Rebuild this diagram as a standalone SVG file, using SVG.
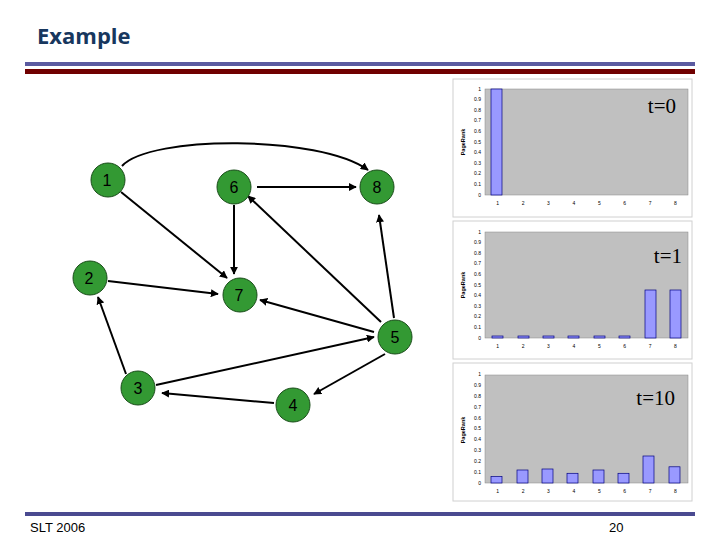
<svg xmlns="http://www.w3.org/2000/svg" width="720" height="540" viewBox="0 0 720 540">
<defs>
<marker id="ah" viewBox="0 0 10 10" refX="9" refY="5" markerWidth="4" markerHeight="4" orient="auto"><path d="M0,0 L10,5 L0,10 z" fill="#000"/></marker>
<g id="yax" font-family="Liberation Sans, Arial, sans-serif" font-size="5" text-anchor="end" fill="#000">
<text x="-4" y="1.5">0</text><text x="-4" y="-9.1">0.1</text><text x="-4" y="-19.7">0.2</text><text x="-4" y="-30.3">0.3</text><text x="-4" y="-40.9">0.4</text><text x="-4" y="-51.5">0.5</text><text x="-4" y="-62.1">0.6</text><text x="-4" y="-72.7">0.7</text><text x="-4" y="-83.3">0.8</text><text x="-4" y="-93.9">0.9</text><text x="-4" y="-104.5">1</text>
</g>
<g id="xax" font-family="Liberation Sans, Arial, sans-serif" font-size="5" text-anchor="middle" fill="#000">
<text x="12.7" y="10">1</text><text x="38.1" y="10">2</text><text x="63.5" y="10">3</text><text x="88.9" y="10">4</text><text x="114.3" y="10">5</text><text x="139.7" y="10">6</text><text x="165.1" y="10">7</text><text x="190.5" y="10">8</text>
</g>
</defs>
<style>
.node{fill:#339933;stroke:#1a4d1a;stroke-width:1}
.nl{font-family:"Liberation Sans",Arial,sans-serif;font-size:16px;text-anchor:middle;fill:#000}
.edge{stroke:#000;stroke-width:2;fill:none;marker-end:url(#ah)}
.box{fill:#fff;stroke:#d0d0d0;stroke-width:1}
.plot{fill:#c0c0c0;stroke:#888;stroke-width:0.5}
.bar{fill:#9999ff;stroke:#000080;stroke-width:0.7}
.pr{font-family:"Liberation Sans",Arial,sans-serif;font-size:5.5px;font-weight:bold;text-anchor:middle}
.t{font-family:"Liberation Serif","Times New Roman",serif;font-size:21px;text-anchor:end}
.foot{font-family:"Liberation Sans",Arial,sans-serif;font-size:13px;fill:#000}
</style>
<rect width="720" height="540" fill="#fff"/>
<text x="37" y="44" font-family="Open Sans,'Liberation Sans',sans-serif" font-size="22" font-weight="bold" fill="#17375e">Example</text>
<rect x="25" y="62" width="670" height="4" fill="#5a5aa0"/>
<rect x="25" y="69" width="670" height="5" fill="#700000"/>
<rect x="25" y="512" width="670" height="4" fill="#4a4a90"/>
<text class="foot" x="30" y="532">SLT 2006</text>
<text class="foot" x="609" y="532">20</text>

<g id="connectors">
<path class="edge" d="M122,166 C150,135 320,135 368,170"/>
<line class="edge" x1="121" y1="192" x2="227" y2="278"/>
<line class="edge" x1="257" y1="187" x2="356" y2="187"/>
<line class="edge" x1="234" y1="205" x2="234" y2="274"/>
<line class="edge" x1="108" y1="281" x2="218" y2="294"/>
<line class="edge" x1="126" y1="374" x2="98" y2="297"/>
<line class="edge" x1="156" y1="385" x2="374" y2="337"/>
<line class="edge" x1="274" y1="403" x2="162" y2="393"/>
<line class="edge" x1="385" y1="354" x2="314" y2="394"/>
<line class="edge" x1="374" y1="332" x2="260" y2="300"/>
<line class="edge" x1="381" y1="322" x2="248" y2="196"/>
<line class="edge" x1="394" y1="318" x2="379" y2="215"/>
</g>
<g id="n1"><circle class="node" cx="108" cy="180" r="17"/><text class="nl" x="107" y="186">1</text></g>
<g id="n6"><circle class="node" cx="234" cy="187" r="17"/><text class="nl" x="234" y="193">6</text></g>
<g id="n8"><circle class="node" cx="377" cy="187" r="17"/><text class="nl" x="377" y="193">8</text></g>
<g id="n2"><circle class="node" cx="90" cy="278" r="17"/><text class="nl" x="89" y="284">2</text></g>
<g id="n7"><circle class="node" cx="240" cy="295" r="17"/><text class="nl" x="239" y="301">7</text></g>
<g id="n5"><circle class="node" cx="395" cy="337" r="17"/><text class="nl" x="395" y="343">5</text></g>
<g id="n3"><circle class="node" cx="138" cy="388" r="17"/><text class="nl" x="138" y="394">3</text></g>
<g id="n4"><circle class="node" cx="293" cy="405" r="17"/><text class="nl" x="293" y="411">4</text></g>

<g id="chart0">
<rect class="box" x="453" y="79" width="239" height="138"/>
<rect class="plot" x="485" y="89" width="203" height="106"/>
<rect class="bar" x="491" y="89" width="11" height="106"/>
<use href="#yax" transform="translate(485,195)"/>
<use href="#xax" transform="translate(485,195)"/>
<text class="pr" transform="translate(465,142) rotate(-90)">PageRank</text>
<text class="t" x="676" y="113">t=0</text>
</g>
<g id="chart1">
<rect class="box" x="453" y="221" width="239" height="138"/>
<rect class="plot" x="485" y="232" width="203" height="106"/>
<rect class="bar" x="492" y="336" width="11" height="2"/>
<rect class="bar" x="518" y="336" width="11" height="2"/>
<rect class="bar" x="543" y="336" width="11" height="2"/>
<rect class="bar" x="568" y="336" width="11" height="2"/>
<rect class="bar" x="594" y="336" width="11" height="2"/>
<rect class="bar" x="619" y="336" width="11" height="2"/>
<rect class="bar" x="645" y="290" width="11" height="48"/>
<rect class="bar" x="670" y="290" width="11" height="48"/>
<use href="#yax" transform="translate(485,338)"/>
<use href="#xax" transform="translate(485,338)"/>
<text class="pr" transform="translate(465,285) rotate(-90)">PageRank</text>
<text class="t" x="682" y="263">t=1</text>
</g>
<g id="chart2">
<rect class="box" x="453" y="363" width="239" height="138"/>
<rect class="plot" x="485" y="375" width="203" height="108"/>
<rect class="bar" x="491" y="476.5" width="11" height="6.5"/>
<rect class="bar" x="517" y="470" width="11" height="13"/>
<rect class="bar" x="542" y="469" width="11" height="14"/>
<rect class="bar" x="567" y="473.3" width="11" height="9.7"/>
<rect class="bar" x="593" y="470" width="11" height="13"/>
<rect class="bar" x="618" y="473.3" width="11" height="9.7"/>
<rect class="bar" x="643" y="456" width="11" height="27"/>
<rect class="bar" x="669" y="466.8" width="11" height="16.2"/>
<use href="#yax" transform="translate(485,483) scale(1,1.02)"/>
<use href="#xax" transform="translate(485,483)"/>
<text class="pr" transform="translate(465,430) rotate(-90)">PageRank</text>
<text class="t" x="675" y="405">t=10</text>
</g>
</svg>
